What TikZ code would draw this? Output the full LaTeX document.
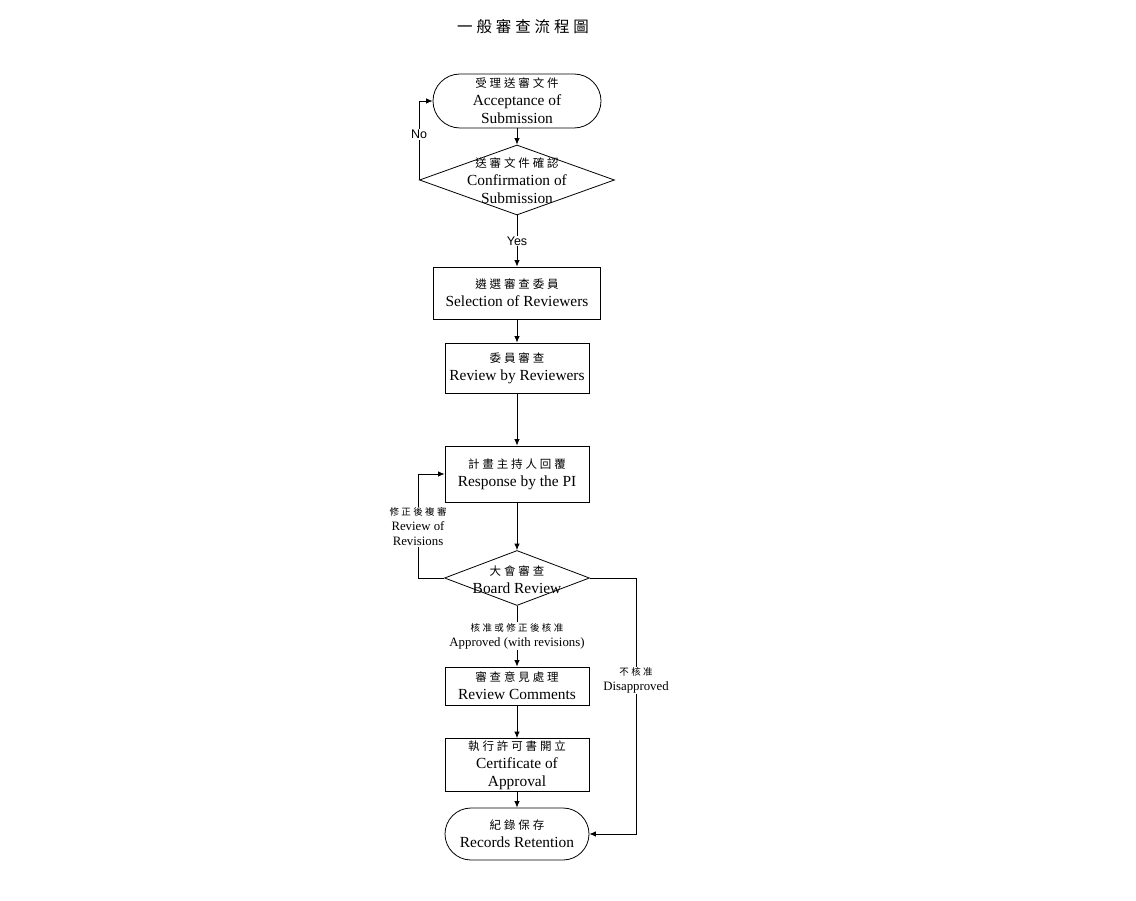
\documentclass[tikz,border=0pt]{standalone}
\usepackage{fontspec}
\setmainfont{Liberation Serif}
\newfontfamily\cjk[LetterSpace=25]{Noto Sans CJK TC}
\newfontfamily\arialfont{Liberation Sans}
\usetikzlibrary{shapes.geometric, arrows.meta}

\newcommand{\zh}[1]{{\cjk\fontsize{11.5}{18}\selectfont #1}}
\newcommand{\zhs}[1]{{\cjk\fontsize{9.5}{15}\selectfont #1}}

\begin{document}
\begin{tikzpicture}[
    x = 1pt, y = -1pt,
    every node/.style = {align = center, font = \fontsize{15.4}{18}\selectfont},
    process/.style = {
      rectangle, draw, line width = 0.8pt, inner sep = 0pt,
      minimum width = 144pt
    },
    terminal/.style = {
      rectangle, draw, line width = 0.8pt, inner sep = 0pt,
      rounded corners = 26pt
    },
    decision/.style = {diamond, draw, line width = 0.8pt, inner sep = 0pt},
    flow/.style = {draw, line width = 0.8pt, -{Latex[length = 6.5pt, width = 5.5pt]}},
    note/.style = {fill = white, inner sep = 1pt, font = \fontsize{12.8}{15}\selectfont},
    yesno/.style = {fill = white, inner sep = 1pt, font = \arialfont\fontsize{12.5}{15}\selectfont}
  ]
  \useasboundingbox (0,0) rectangle (1136,901);

  \node (title) at (523,27) {\cjk\fontsize{15.5}{18}\selectfont 一般審查流程圖};

  \node [terminal, minimum width = 168pt, minimum height = 54pt, rounded corners = 27pt]
    (accept) at (517,101) {\zh{受理送審文件}\\ Acceptance of\\ Submission};
  \node [decision, minimum width = 195pt, minimum height = 70pt]
    (confirm) at (517,180) {};
  \node (confirmtext) at (517,181)
    {\zh{送審文件確認}\\ Confirmation of\\ Submission};
  \node [process, minimum width = 167pt, minimum height = 52pt]
    (select) at (517,293) {\zh{遴選審查委員}\\ Selection of Reviewers};
  \node [process, minimum height = 50pt]
    (review) at (517,368) {\zh{委員審查}\\ Review by Reviewers};
  \node [process, minimum height = 56pt]
    (response) at (517,474) {\zh{計畫主持人回覆}\\ Response by the PI};
  \node [decision, minimum width = 145pt, minimum height = 55pt]
    (board) at (517,578) {};
  \node (boardtext) at (517,580) {\zh{大會審查}\\ Board Review};
  \node [process, minimum height = 38pt]
    (comments) at (517,686) {\zh{審查意見處理}\\ Review Comments};
  \node [process, minimum height = 53pt]
    (certificate) at (517,765) {\zh{執行許可書開立}\\ Certificate of\\ Approval};
  \node [terminal, minimum width = 144pt, minimum height = 52pt]
    (records) at (517,834) {\zh{紀錄保存}\\ Records Retention};

  \draw [flow] (accept) -- (confirm);
  \draw [flow] (confirm) -- node [yesno] {Yes} (select);
  \draw [flow] (select) -- (review);
  \draw [flow] (review) -- (response);
  \draw [flow] (response) -- (board);
  \draw [flow] (board) -- node [note] {\zhs{核准或修正後核准}\\ Approved (with revisions)} (comments);
  \draw [flow] (comments) -- (certificate);
  \draw [flow] (certificate) -- (records);

  \coordinate (noturn) at (confirm.west);
  \draw [flow] (noturn) |- node [yesno, pos = 0.29] {No} (accept.west);
  \coordinate (revturn) at (418,578);
  \draw [flow] (board.west) -- (revturn) |- node [note, pos = 0.245]
    {\zhs{修正後複審}\\ Review of\\ Revisions} (response.west);
  \coordinate (disturn) at (636,578);
  \draw [flow] (board.east) -- (disturn) |- node [note, pos = 0.2]
    {\zhs{不核准}\\ Disapproved} (records.east);
\end{tikzpicture}
\end{document}
